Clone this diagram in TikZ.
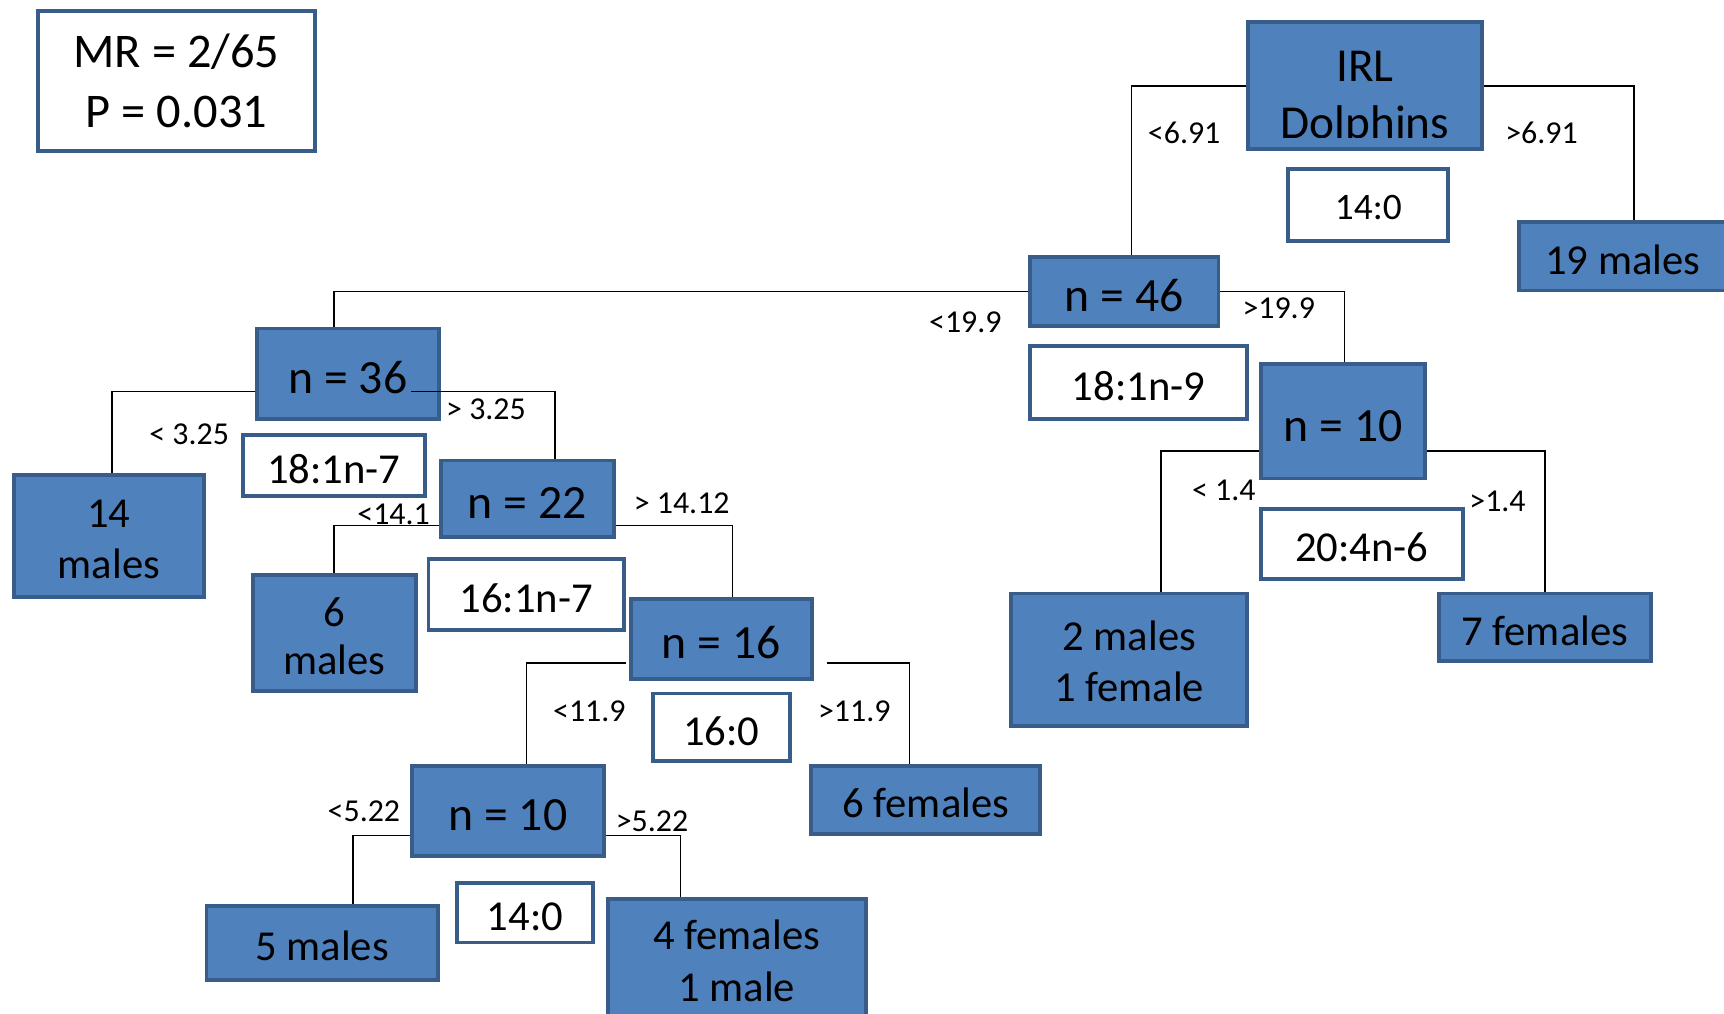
\documentclass[tikz,border=0pt]{standalone}
\usepackage{fontspec}
\setmainfont{Carlito}
\definecolor{bfill}{HTML}{4F81BD}
\definecolor{bline}{HTML}{385D8A}
\tikzset{
  bluebox/.style={draw=bline, fill=bfill, line width=1.75pt, inner sep=0pt, align=center},
  whitebox/.style={draw=bline, fill=white, line width=1.75pt, inner sep=0pt, align=center},
  lbl/.style={font=\fontsize{14.5}{17}\selectfont, inner sep=0pt},
  conn/.style={draw=black, line width=0.7pt},
  bigtxt/.style={font=\fontsize{21.7}{26}\selectfont, text height=18.4pt},
  midtxt/.style={font=\fontsize{19.4}{23.5}\selectfont, text height=16.6pt},
  multitxt/.style={font=\fontsize{19.4}{23.5}\selectfont, inner sep=0pt, align=center},
}
\begin{document}
\begin{tikzpicture}[x=0.5pt,y=-0.5pt]
\useasboundingbox (0,0) rectangle (1568,922.2);

% legend
\node[whitebox, font=\fontsize{22}{27}\selectfont, minimum width=125.75pt, minimum height=63.75pt] (mr) at (160.5,73.5) {MR = 2/65\\P = 0.031};

% root
\node[bluebox, minimum width=106.75pt, minimum height=57.75pt] (irl) at (1241.5,77.5) {};
\begin{scope}
  \clip (1136,21) rectangle (1347,125);
  \node[font=\fontsize{21.5}{26}\selectfont, anchor=base, inner sep=0pt] (irltxt1) at (1241.5,74) {IRL};
  \node[font=\fontsize{21.5}{26}\selectfont, anchor=base, inner sep=0pt] (irltxt2) at (1241.5,126) {Dolphins};
\end{scope}
\node[whitebox, font=\fontsize{17}{20}\selectfont, text height=13.5pt, minimum width=72.75pt, minimum height=32.75pt] (t14) at (1244.5,186.5) {14:0};
\node[bluebox, midtxt, minimum width=94.25pt, minimum height=31.25pt] (m19) at (1476,233) {19 males};

% n = 46 branch
\node[bluebox, bigtxt, minimum width=85.75pt, minimum height=31.25pt] (n46) at (1022.5,265) {n = 46};
\node[whitebox, midtxt, minimum width=98.75pt, minimum height=33.25pt] (w189) at (1035.5,348) {18:1n-9};
\node[bluebox, bigtxt, minimum width=74.75pt, minimum height=52.25pt] (n10r) at (1221.5,383) {n = 10};
\node[whitebox, midtxt, minimum width=91.75pt, minimum height=31.75pt] (w204) at (1238.5,494.5) {20:4n-6};
\node[bluebox, minimum width=107.25pt, minimum height=60.25pt] (m2f1) at (1027,600) {};
\node[multitxt] (m2f1t) at ([yshift=-0.75pt]m2f1.center) {2 males\\1 female};
\node[bluebox, midtxt, minimum width=96.25pt, minimum height=30.75pt] (f7) at (1405,570.5) {7 females};

% n = 36 branch
\node[bluebox, bigtxt, minimum width=82.75pt, minimum height=41.25pt] (n36) at (316.5,340) {n = 36};
\node[whitebox, midtxt, minimum width=82.75pt, minimum height=27.75pt] (w187) at (303.5,423.5) {18:1n-7};
\node[bluebox, minimum width=86.25pt, minimum height=55.75pt] (m14) at (99,487.5) {};
\node[multitxt] (m14t) at ([yshift=-1.5pt]m14.center) {14\\males};
\node[bluebox, bigtxt, minimum width=78.75pt, minimum height=34.75pt] (n22) at (479.5,453.5) {n = 22};
\node[bluebox, minimum width=74.25pt, minimum height=52.75pt] (m6) at (304,575.5) {};
\node[multitxt, font=\fontsize{19.4}{22}\selectfont] (m6t) at ([yshift=-1.5pt]m6.center) {6\\males};
\node[whitebox, midtxt, minimum width=88.75pt, minimum height=32.25pt] (w167) at (478.5,541) {16:1n-7};
\node[bluebox, bigtxt, minimum width=82.25pt, minimum height=36.25pt] (n16) at (656,581) {n = 16};
\node[whitebox, midtxt, minimum width=62.25pt, minimum height=30.75pt] (w160) at (656,661.5) {16:0};
\node[bluebox, midtxt, minimum width=104.25pt, minimum height=30.75pt] (f6) at (842,727.5) {6 females};
\node[bluebox, bigtxt, minimum width=87.25pt, minimum height=40.75pt] (n10b) at (462,737.5) {n = 10};
\node[whitebox, midtxt, minimum width=61.75pt, minimum height=27.25pt] (w140) at (477.5,830) {14:0};
\node[bluebox, midtxt, minimum width=105.25pt, minimum height=33.75pt] (m5) at (293,857.5) {5 males};
\node[bluebox, minimum width=117.25pt, minimum height=60.25pt] (f4m1) at (670,878) {};
\node[multitxt] (f4m1t) at ([yshift=2pt]f4m1.center) {4 females\\1 male};

% connectors
\coordinate (c36r) at (374,356);
\coordinate (c16l) at (569,603);
\coordinate (c16r) at (752,603);
\draw[conn] (irl.west |- 0,78) -| (n46.north -| 1029,0);
\draw[conn] (irl.east |- 0,78) -| (m19.north -| 1486,0);
\draw[conn] (n46.west) -| (n36.north -| 304,0);
\draw[conn] (n46.east) -| (n10r.north -| 1223,0);
\draw[conn] (n10r.west |- 0,410) -| (m2f1.north -| 1056,0);
\draw[conn] (n10r.east |- 0,410) -| (f7.north -| 1405,0);
\draw[conn] (n36.west |- 0,356) -| (m14.north -| 102,0);
\draw[conn] (c36r) -| (n22.north -| 505,0);
\draw[conn] (n22.west |- 0,478) -| (m6.north -| 304,0);
\draw[conn] (n22.east |- 0,478) -| (n16.north -| 666,0);
\draw[conn] (c16l) -| (n10b.north -| 479,0);
\draw[conn] (c16r) -| (f6.north -| 827,0);
\draw[conn] (n10b.west |- 0,760) -| (m5.north -| 321,0);
\draw[conn] (n10b.east |- 0,760) -| (f4m1.north -| 619,0);

% labels
\node[lbl] (l1) at (1077,121) {<6.91};
\node[lbl] (l2) at (1402,121) {>6.91};
\node[lbl] (l3) at (878,293) {<19.9};
\node[lbl] (l4) at (1163,280) {>19.9};
\node[lbl] (l5) at (1113,446) {< 1.4};
\node[lbl] (l6) at (1362,456) {>1.4};
\node[lbl] (l7) at (172,395) {< 3.25};
\node[lbl] (l8) at (442,372) {> 3.25};
\node[lbl] (l9) at (358,468) {<14.1};
\node[lbl] (l10) at (620,458) {> 14.12};
\node[lbl] (l11) at (536,647) {<11.9};
\node[lbl] (l12) at (777,647) {>11.9};
\node[lbl] (l13) at (331,738) {<5.22};
\node[lbl] (l14) at (593,747) {>5.22};
\end{tikzpicture}
\end{document}
